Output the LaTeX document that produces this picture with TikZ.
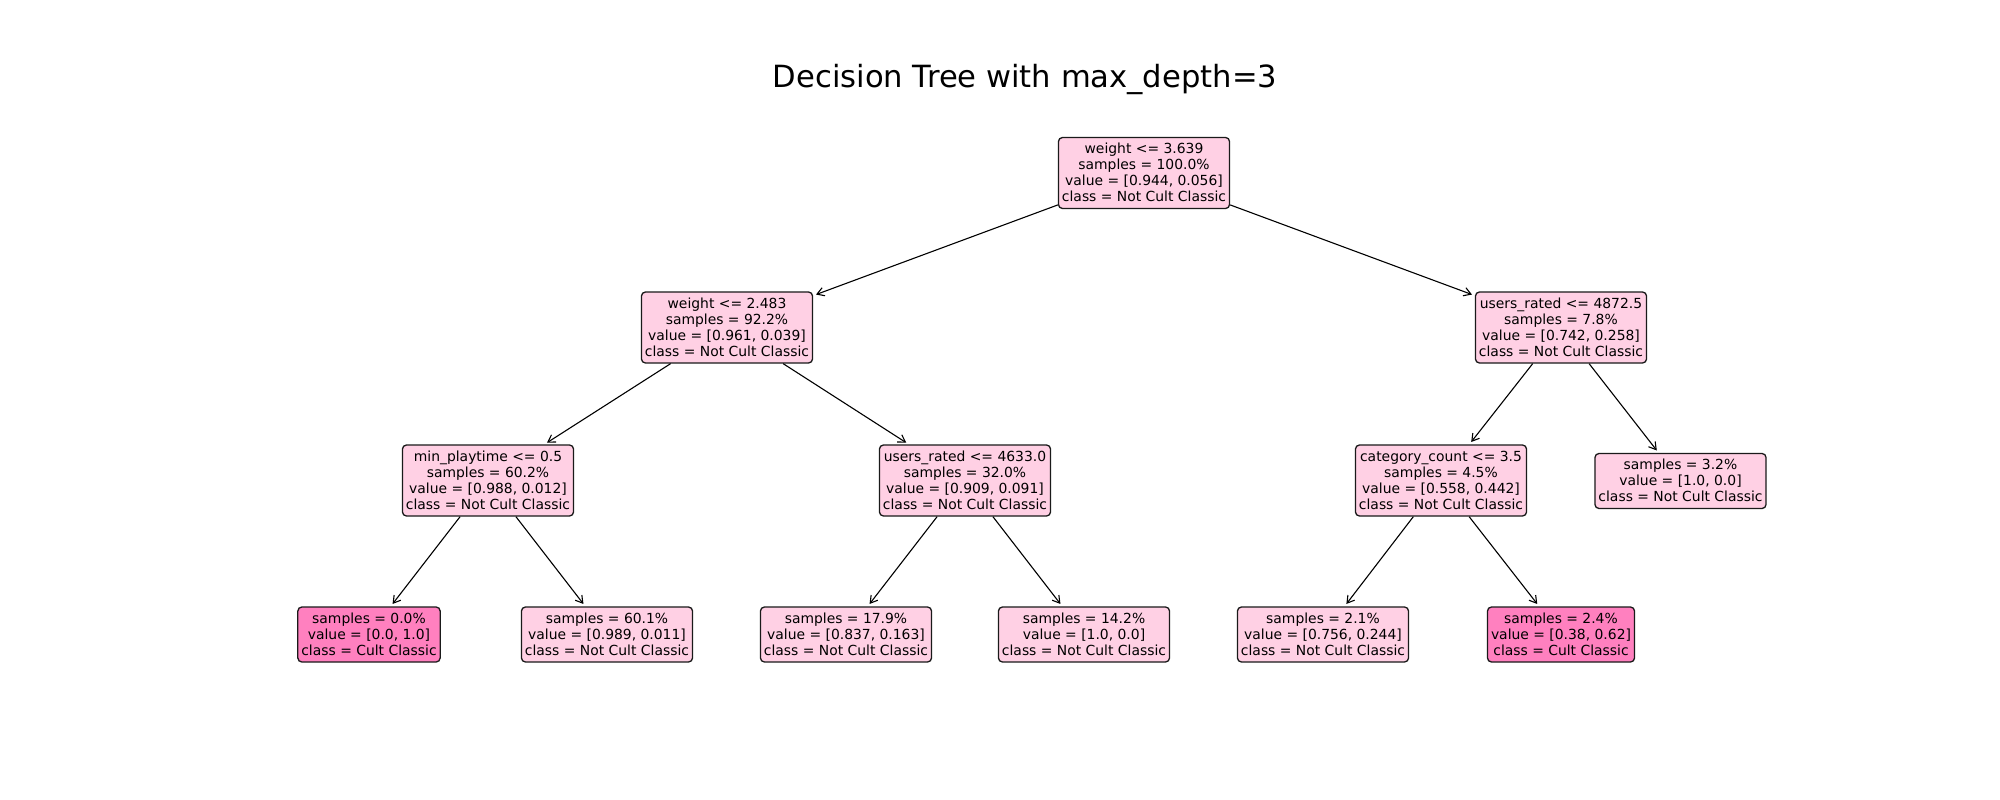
\documentclass[tikz,border=0pt]{standalone}
\usepackage{fontspec}
\setmainfont{DejaVu Sans}
\usetikzlibrary{arrows.meta}
\definecolor{lpink}{HTML}{FFD0E4}
\definecolor{dpink}{HTML}{FF80BF}
\definecolor{edgec}{HTML}{1A1A1A}
\newcommand{\tl}[1]{\rule{0pt}{12.7pt}#1}
\newcommand{\bl}[1]{#1\rule[-3.3pt]{0pt}{3.3pt}}
\tikzset{
  tn/.style={draw=edgec, line width=1.3pt, rounded corners=4pt, fill=lpink,
    align=center, inner xsep=3.5pt, inner ysep=3.5pt,
    font=\fontsize{13.9}{16}\selectfont},
  cult/.style={tn, fill=dpink},
  arr/.style={-{Straight Barb[length=7pt,width=8.5pt]}, line width=1.1pt, black, shorten >=3pt}
}
\begin{document}
\begin{tikzpicture}[x=1pt,y=-1pt]
\useasboundingbox[fill=white] (0,0) rectangle (2000,800);
\node[anchor=base, font=\fontsize{30.6}{36}\selectfont] (title) at (1025,88) {Decision Tree with max\_depth=3};

\node[tn] (root) at (1144,173) {\tl{weight <= 3.639}\\samples = 100.0\%\\value = [0.944, 0.056]\\\bl{class = Not Cult Classic}};

\node[tn] (l) at (727,327.5) {\tl{weight <= 2.483}\\samples = 92.2\%\\value = [0.961, 0.039]\\\bl{class = Not Cult Classic}};
\node[tn] (r) at (1561,327.5) {\tl{users\_rated <= 4872.5}\\samples = 7.8\%\\value = [0.742, 0.258]\\\bl{class = Not Cult Classic}};

\node[tn] (ll) at (488,480.5) {\tl{min\_playtime <= 0.5}\\samples = 60.2\%\\value = [0.988, 0.012]\\\bl{class = Not Cult Classic}};
\node[tn] (lr) at (965,480.5) {\tl{users\_rated <= 4633.0}\\samples = 32.0\%\\value = [0.909, 0.091]\\\bl{class = Not Cult Classic}};
\node[tn] (rl) at (1441,480.5) {\tl{category\_count <= 3.5}\\samples = 4.5\%\\value = [0.558, 0.442]\\\bl{class = Not Cult Classic}};
\node[tn] (rr) at (1680.5,481) {\tl{samples = 3.2\%}\\value = [1.0, 0.0]\\\bl{class = Not Cult Classic}};

\node[cult] (lll) at (369,634.5) {\tl{samples = 0.0\%}\\value = [0.0, 1.0]\\\bl{class = Cult Classic}};
\node[tn] (llr) at (607,634.5) {\tl{samples = 60.1\%}\\value = [0.989, 0.011]\\\bl{class = Not Cult Classic}};
\node[tn] (lrl) at (846,634.5) {\tl{samples = 17.9\%}\\value = [0.837, 0.163]\\\bl{class = Not Cult Classic}};
\node[tn] (lrr) at (1084,634.5) {\tl{samples = 14.2\%}\\value = [1.0, 0.0]\\\bl{class = Not Cult Classic}};
\node[tn] (rll) at (1323,634.5) {\tl{samples = 2.1\%}\\value = [0.756, 0.244]\\\bl{class = Not Cult Classic}};
\node[cult] (rlr) at (1561,634.5) {\tl{samples = 2.4\%}\\value = [0.38, 0.62]\\\bl{class = Cult Classic}};

\draw[arr] (root) -- (l);
\draw[arr] (root) -- (r);
\draw[arr] (l) -- (ll);
\draw[arr] (l) -- (lr);
\draw[arr] (r) -- (rl);
\draw[arr] (r) -- (rr);
\draw[arr] (ll) -- (lll);
\draw[arr] (ll) -- (llr);
\draw[arr] (lr) -- (lrl);
\draw[arr] (lr) -- (lrr);
\draw[arr] (rl) -- (rll);
\draw[arr] (rl) -- (rlr);
\end{tikzpicture}
\end{document}
